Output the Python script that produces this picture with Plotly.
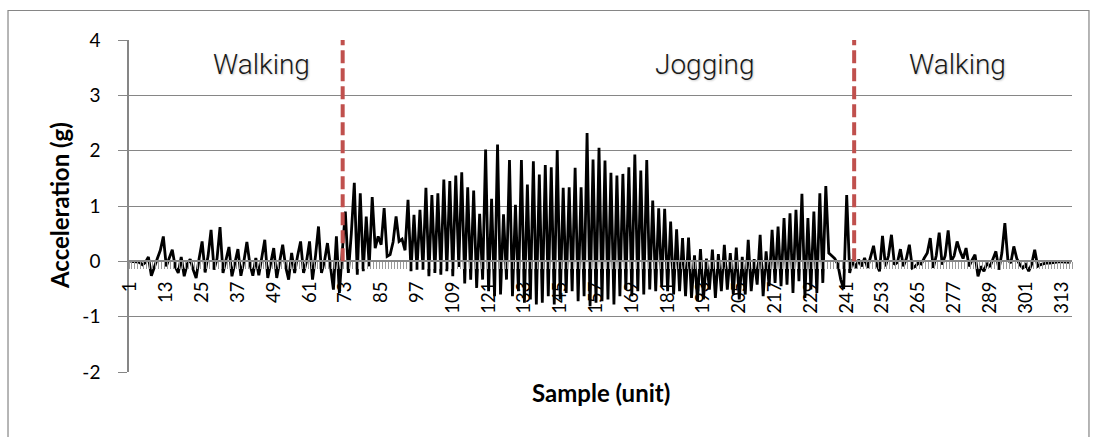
import plotly.graph_objects as go

# ---------------- data ----------------
WALK_1 = [  # samples 1-72
    0.00, 0.00, -0.01, -0.02, -0.06, -0.02, 0.08, -0.26, -0.12, 0.05,
    0.20, 0.45, -0.09, 0.05, 0.21, -0.10, -0.21, 0.08, -0.27, -0.05,
    0.04, -0.15, -0.30, 0.05, 0.36, -0.20, 0.10, 0.57, -0.15, 0.05,
    0.62, -0.21, 0.05, 0.26, -0.27, -0.05, 0.22, -0.26, 0.00, 0.35,
    -0.05, -0.26, 0.06, -0.25, 0.10, 0.39, -0.30, -0.05, 0.24, -0.30,
    0.00, 0.30, -0.10, -0.33, 0.15, -0.21, 0.10, 0.36, -0.21, 0.00,
    0.36, -0.33, 0.10, 0.63, -0.21, 0.00, 0.33, -0.10, -0.51, 0.45,
    -0.57, 0.20,
]
JOG = [  # samples 73-243
    0.90, -0.21, 0.50, 1.42, -0.24, 1.23, -0.18, 0.81,
    -0.09, 1.16, 0.24, 0.45, 0.30, 0.96, 0.09, 0.12, 0.35, 0.81,
    0.36, 0.40, 0.20, 1.11, -0.18, 0.84, -0.15, 0.93, -0.15, 1.33,
    -0.27, 1.20, -0.21, 1.23, -0.24, 1.48, -0.18, 1.45, -0.27, 1.55,
    -0.10, 1.61, -0.40, 1.34, -0.33, 1.28, -0.48, 0.86, -0.33, 2.02,
    -0.54, 1.13, -0.63, 2.11, -0.60, 0.85, -0.33, 1.83, -0.63, 1.02,
    -0.54, 1.83, -0.75, 1.39, -0.69, 1.81, -0.78, 1.57, -0.75, 1.74,
    -0.63, 1.70, -0.78, 2.01, -0.69, 1.33, -0.57, 1.34, -0.54, 1.69,
    -0.72, 1.34, -0.63, 2.32, -0.81, 1.84, -0.75, 2.05, -0.72, 1.82,
    -0.69, 1.60, -0.78, 1.55, -0.63, 1.58, -0.51, 1.70, -0.63, 1.93,
    -0.54, 1.64, -0.60, 1.83, -0.51, 1.10, -0.54, 0.96, -0.45, 0.95,
    -0.54, 0.72, -0.60, 0.58, -0.54, 0.42, -0.63, 0.43, -0.66, 0.11,
    -0.72, 0.22, -0.69, 0.05, -0.51, 0.21, -0.66, 0.13, -0.54, 0.30,
    -0.51, 0.15, -0.60, 0.25, -0.69, 0.08, -0.60, 0.39, -0.54, 0.04,
    -0.42, 0.48, -0.63, 0.18, -0.45, 0.57, -0.39, 0.63, -0.45, 0.78,
    -0.42, 0.87, -0.57, 0.93, -0.36, 1.22, -0.66, 0.78, -0.51, 0.90,
    -0.57, 1.23, -0.39, 1.36, 0.15, 0.10, 0.05, -0.05, -0.33, -0.50,
    1.20, -0.21, 0.03,
]
WALK_2 = [  # samples 244-316
    -0.12, 0.03, -0.09, 0.06, -0.12, 0.10, 0.28,
    -0.05, -0.18, 0.46, -0.09, 0.10, 0.48, -0.06, -0.02, 0.22, -0.09,
    0.05, 0.30, -0.12, -0.09, -0.03, -0.05, 0.06, 0.15, 0.42, -0.12,
    0.10, 0.52, -0.06, 0.10, 0.56, 0.00, 0.10, 0.36, 0.18, 0.05,
    0.24, -0.09, 0.02, 0.12, -0.27, -0.09, -0.18, -0.03, -0.10, 0.06,
    0.18, -0.15, 0.15, 0.69, 0.03, -0.03, 0.27, 0.05, -0.06, -0.12,
    -0.06, -0.18, -0.05, 0.21, -0.09, -0.06, -0.04, -0.03, -0.03, -0.02,
    -0.02, -0.01, -0.01, -0.01, -0.01, -0.02,
]

values = WALK_1 + JOG + WALK_2
samples = list(range(1, len(values) + 1))
TICK_SAMPLES = list(range(1, len(values) + 1, 12))
TICK_TEXT = [str(t) for t in TICK_SAMPLES]
Y_TICKS = [-2, -1, 0, 1, 2, 3, 4]
Y_TICK_TEXT = ["-2", "-1", "0", "1", "2", "3", "4"]

PHASE_BOUNDARIES = [72.1, 243.5]          # sample position of the red dashed lines
PHASE_LABELS = ["Walking", "Jogging", "Walking"]
PHASE_LABEL_X = [45.0, 193.5, 278.1]      # sample position of the phase labels
PHASE_LABEL_Y = 3.56

X_TITLE = "Sample (unit)"
Y_TITLE = "Acceleration (g)"

# ---------------- figure ----------------
GRID = "#868686"
fig = go.Figure()
fig.add_trace(go.Scatter(
    x=samples, y=values, mode="lines",
    line=dict(color="black", width=2.8),
    hoverinfo="skip", showlegend=False,
))

fig.update_layout(
    width=1097, height=437,
    margin=dict(l=129, r=25, t=40, b=65),
    paper_bgcolor="white", plot_bgcolor="white",
    font=dict(family="Lato", color="black"),
    showlegend=False,
)

fig.update_xaxes(
    range=[0.5, len(values) + 0.5],
    anchor="free", position=1 / 3,
    showline=True, linecolor=GRID, linewidth=1.5,
    showgrid=False, zeroline=False,
    tickmode="array", tickvals=TICK_SAMPLES, ticktext=TICK_TEXT,
    tickangle=-90, ticks="", ticklabelstandoff=12,
    tickfont=dict(size=18.5, color="black"),
    minor=dict(
        tickmode="array",
        tickvals=[k + 0.5 for k in range(0, len(values) + 1)],
        ticks="outside", ticklen=7, tickcolor="#9a9a9a", tickwidth=1,
        showgrid=False,
    ),
)

fig.update_yaxes(
    range=[-2, 4], tickmode="array", tickvals=Y_TICKS, ticktext=Y_TICK_TEXT,
    showgrid=True, gridcolor=GRID, gridwidth=1.2,
    showline=True, linecolor=GRID, linewidth=1.5,
    ticks="outside", ticklen=9, tickcolor=GRID, tickwidth=1.2,
    zeroline=False, ticklabelstandoff=14,
    tickfont=dict(size=19, color="black"),
)

# red dashed phase boundaries
for xb in PHASE_BOUNDARIES:
    fig.add_shape(type="line", xref="x", yref="y",
                  x0=xb, x1=xb, y0=0, y1=4,
                  line=dict(color="#C0504D", width=4, dash="13px,5px"),
                  layer="above")

# phase labels
for lab, xl in zip(PHASE_LABELS, PHASE_LABEL_X):
    fig.add_annotation(x=xl, y=PHASE_LABEL_Y, xref="x", yref="y",
                       text=lab, showarrow=False,
                       xanchor="center", yanchor="middle",
                       font=dict(family="Roboto", size=28, color="#1a1a1a",
                                 weight=300, shadow="1px 1px 2px #c8c8c8"))

# axis titles
fig.add_annotation(x=0.5, y=-0.063, xref="paper", yref="paper",
                   text="<b>" + X_TITLE + "</b>", showarrow=False,
                   xanchor="center", yanchor="middle",
                   font=dict(family="Lato", size=24, color="black"))
fig.add_annotation(x=-0.0742, y=0.5, xref="paper", yref="paper",
                   text="<b>" + Y_TITLE + "</b>", showarrow=False, textangle=-90,
                   xanchor="center", yanchor="middle",
                   font=dict(family="Lato", size=24, color="black"))

# chart-area border
fig.add_shape(type="rect", xref="paper", yref="paper",
              x0=-0.1283, x1=1.018, y0=-0.204, y1=1.0889,
              line=dict(color=GRID, width=1.2), fillcolor="rgba(0,0,0,0)",
              layer="below")

fig.write_html("out.html")
